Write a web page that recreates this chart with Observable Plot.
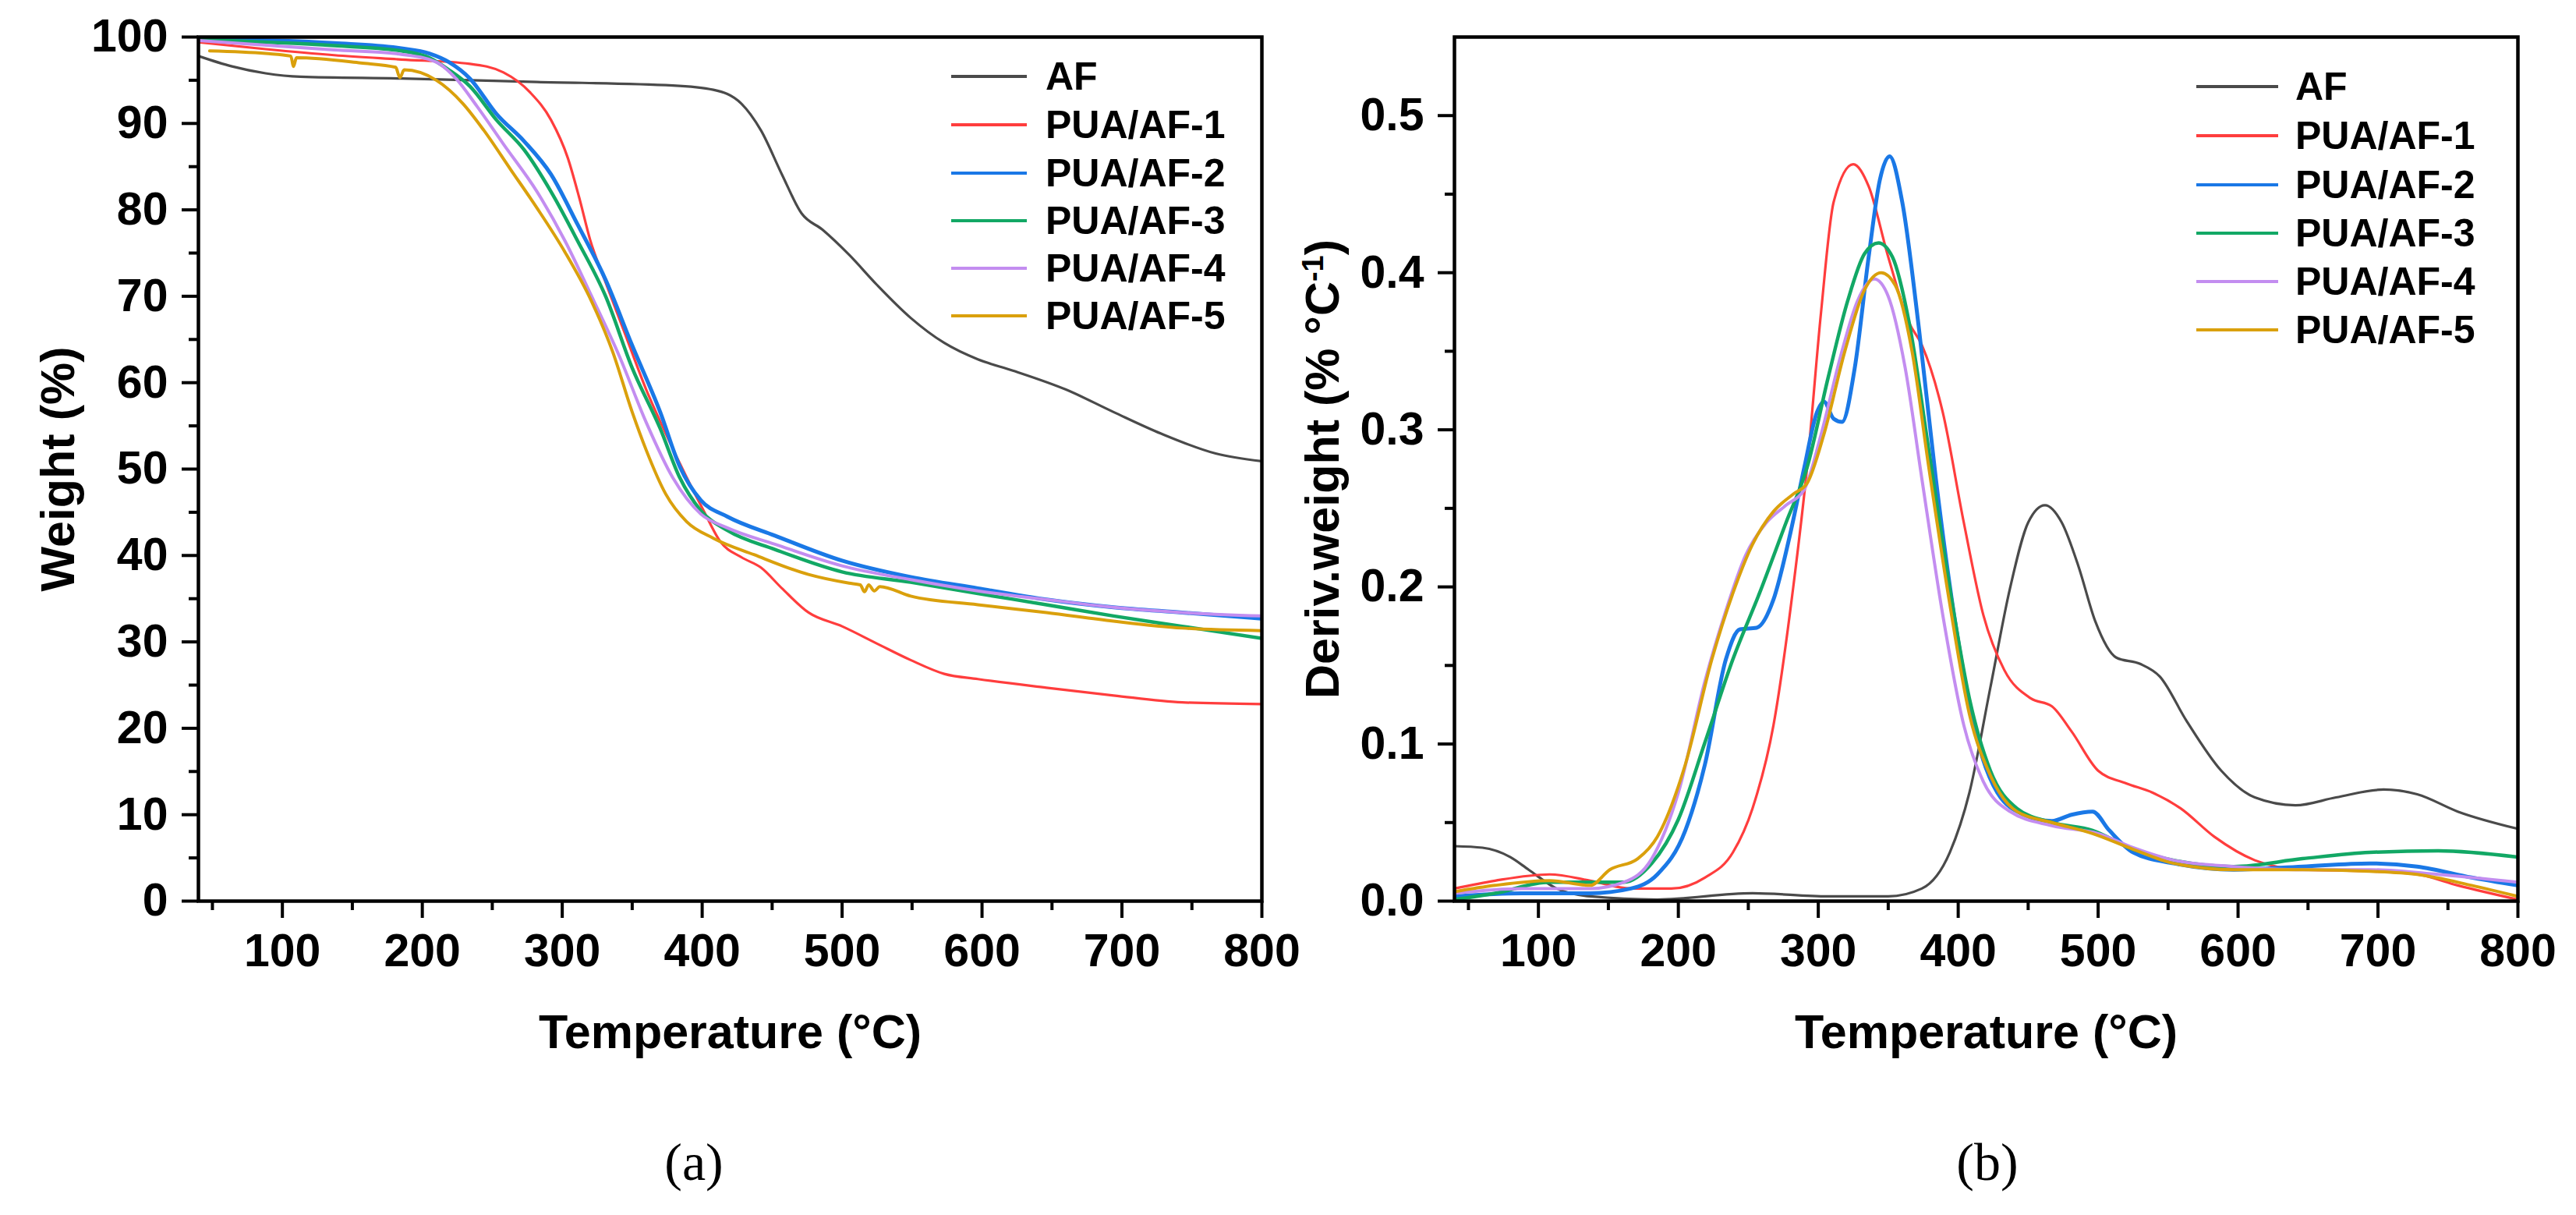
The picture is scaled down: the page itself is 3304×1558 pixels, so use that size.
<!DOCTYPE html>
<html>
<head>
<meta charset="utf-8">
<script src="https://cdn.jsdelivr.net/npm/d3@7"></script>
<script src="https://cdn.jsdelivr.net/npm/@observablehq/plot@0.6"></script>
<style>
  body { margin: 0; background: #fff; }
  #fig { position: relative; width: 3304px; height: 1558px; background: #fff; overflow: hidden;
         font-family: "Liberation Sans", Arial, sans-serif; }
  .panel { position: absolute; top: 0; }
  .panel svg { max-width: none; overflow: visible; }
  .legend { position: absolute; left: 0; top: 0; font-weight: bold; font-size: 50px; color: #000; }
  .legend .sw { position: absolute; height: 4.5px; }
  .legend .lb { position: absolute; line-height: 50px; height: 50px; white-space: nowrap; }
  .cap { position: absolute; width: 300px; text-align: center; font-family: "Liberation Serif", "Times New Roman", serif;
         font-size: 68px; line-height: 68px; color: #000; }
</style>
</head>
<body>
<div id="fig"></div>
<script>
// ---------- series names, colours ----------
const seriesNames = ["AF", "PUA/AF-1", "PUA/AF-2", "PUA/AF-3", "PUA/AF-4", "PUA/AF-5"];
const seriesColors = ["#4a4a4a", "#ff3d3d", "#1a78e6", "#12a865", "#c38df0", "#daa00c"];
const seriesWidths = [3.2, 3.2, 5, 4.5, 4, 4];

// ---------- tick values ----------
const xMajorTicks = [100, 200, 300, 400, 500, 600, 700, 800];
const xMinorTicks = [50, 150, 250, 350, 450, 550, 650, 750];
const yTicksA = [0, 10, 20, 30, 40, 50, 60, 70, 80, 90, 100];
const yMinorA = [5, 15, 25, 35, 45, 55, 65, 75, 85, 95];
const yTicksB = [0, 0.1, 0.2, 0.3, 0.4, 0.5];
const yMinorB = [0.05, 0.15, 0.25, 0.35, 0.45];

// ---------- labels ----------
const xTitle = "Temperature (°C)";
const yTitleA = "Weight (%)";
const yTitleB = "Deriv.weight (% °C-1)";
const captions = ["(a)", "(b)"];

// ---------- (a) TGA: [temperature °C, weight %] ----------
const tgaAF = [[40,97.8],[64,96.6],[88,95.8],[113,95.4],[185,95.2],[282,94.8],[379,94.4],[408,93.9],[428,92.3],[442,89.2],[457,84.1],[471,79.6],[486,77.7],[505,74.8],[525,71.3],[549,67.5],[573,64.6],[597,62.7],[622,61.4],[660,59.2],[694,56.6],[728,54.1],[767,51.8],[800,50.9]];
const tga1 = [[40,99.4],[88,98.6],[137,97.9],[185,97.4],[234,96.9],[258,95.9],[277,93.6],[292,90.4],[304,86.0],[312,81.5],[320,76.5],[331,71.6],[345,65.6],[360,59.2],[374,54.1],[389,49.0],[401,45.2],[413,41.6],[428,39.8],[442,38.6],[457,36.2],[476,33.4],[500,31.8],[525,29.8],[549,27.9],[573,26.3],[597,25.7],[646,24.7],[694,23.8],[743,23.0],[800,22.8]];
const tga2 = [[40,99.8],[137,99.3],[185,98.7],[205,98.1],[219,97.1],[234,95.2],[253,91.1],[273,87.9],[292,84.1],[311,78.3],[331,71.9],[350,64.3],[370,56.6],[384,50.3],[399,46.4],[418,44.5],[452,42.3],[500,39.4],[549,37.5],[597,36.2],[646,34.9],[694,34.0],[743,33.4],[800,32.7]];
const tga3 = [[40,99.7],[137,99.0],[185,98.4],[205,97.6],[219,96.2],[234,94.3],[253,90.4],[273,86.9],[292,82.1],[311,76.4],[331,70.0],[350,61.7],[370,54.7],[384,49.0],[399,45.2],[418,42.9],[452,40.7],[500,38.1],[549,36.9],[597,35.6],[646,34.3],[694,33.0],[743,31.8],[800,30.4]];
const tga4 = [[40,99.6],[137,98.5],[185,98.0],[210,97.1],[224,95.2],[239,92.0],[258,87.6],[282,82.1],[302,76.4],[321,70.0],[341,63.0],[360,55.4],[379,49.0],[399,44.8],[418,43.2],[452,41.3],[500,38.8],[549,37.2],[597,35.9],[646,34.9],[694,34.0],[743,33.4],[800,33.0]];
const tga5 = [[48,98.4],[88,98.1],[106,97.8],[108,96.6],[110,97.6],[156,97.0],[181,96.5],[184,95.3],[187,96.2],[210,95.0],[229,92.3],[244,89.2],[263,84.7],[282,80.2],[302,75.1],[321,69.4],[336,63.6],[350,56.6],[360,52.2],[374,47.1],[389,43.9],[408,42.0],[437,40.1],[476,37.8],[505,36.8],[513,36.6],[516,35.8],[519,36.6],[523,35.9],[527,36.4],[549,35.3],[597,34.3],[646,33.4],[694,32.4],[743,31.6],[800,31.3]];

// ---------- (b) DTG: [temperature °C, deriv. weight %/°C] ----------
const dtgAF = [[40,0.035],[60,0.034],[80,0.028],[93,0.020],[113,0.008],[137,0.003],[185,0.001],[253,0.005],[307,0.003],[350,0.003],[374,0.008],[394,0.031],[408,0.069],[423,0.136],[437,0.199],[450,0.241],[462,0.252],[474,0.241],[486,0.213],[498,0.178],[513,0.155],[530,0.151],[544,0.143],[563,0.115],[588,0.083],[612,0.066],[641,0.061],[670,0.066],[704,0.071],[728,0.068],[757,0.057],[800,0.046]];
const dtg1 = [[40,0.008],[69,0.013],[108,0.017],[137,0.013],[166,0.008],[195,0.008],[219,0.015],[239,0.031],[253,0.059],[268,0.112],[282,0.199],[292,0.276],[302,0.375],[311,0.445],[325,0.469],[336,0.455],[350,0.410],[365,0.368],[374,0.354],[389,0.311],[404,0.241],[418,0.182],[433,0.147],[452,0.129],[467,0.124],[481,0.108],[500,0.083],[520,0.075],[539,0.069],[559,0.059],[583,0.041],[612,0.026],[646,0.020],[694,0.019],[728,0.017],[757,0.010],[800,0.001]];
const dtg2 = [[40,0.003],[88,0.005],[137,0.005],[166,0.008],[185,0.017],[205,0.045],[219,0.087],[234,0.154],[244,0.173],[256,0.174],[268,0.192],[280,0.234],[290,0.276],[299,0.311],[304,0.318],[311,0.307],[317,0.305],[326,0.339],[336,0.410],[344,0.459],[351,0.474],[360,0.445],[372,0.364],[384,0.269],[399,0.171],[413,0.105],[428,0.069],[447,0.055],[467,0.051],[481,0.055],[496,0.057],[508,0.045],[525,0.031],[554,0.024],[597,0.020],[646,0.022],[694,0.024],[728,0.022],[767,0.015],[800,0.010]];
const dtg3 = [[40,0.001],[69,0.005],[108,0.012],[137,0.012],[161,0.012],[181,0.024],[200,0.052],[219,0.101],[239,0.154],[258,0.196],[277,0.241],[292,0.276],[307,0.333],[321,0.382],[333,0.412],[343,0.419],[353,0.410],[365,0.368],[379,0.287],[394,0.199],[408,0.129],[423,0.083],[442,0.059],[467,0.050],[496,0.045],[525,0.033],[554,0.026],[597,0.022],[646,0.027],[694,0.031],[743,0.032],[800,0.028]];
const dtg4 = [[40,0.005],[88,0.008],[137,0.008],[161,0.012],[181,0.027],[200,0.069],[219,0.140],[234,0.185],[248,0.220],[263,0.241],[277,0.252],[290,0.262],[302,0.297],[316,0.347],[328,0.382],[340,0.396],[350,0.385],[362,0.340],[374,0.269],[389,0.182],[404,0.112],[418,0.076],[437,0.057],[467,0.048],[500,0.043],[525,0.034],[554,0.026],[597,0.022],[646,0.020],[694,0.020],[743,0.017],[800,0.012]];
const dtg5 = [[40,0.006],[69,0.010],[108,0.013],[137,0.010],[151,0.020],[171,0.027],[185,0.041],[205,0.087],[224,0.154],[239,0.196],[253,0.227],[268,0.248],[282,0.259],[292,0.266],[304,0.297],[319,0.350],[333,0.389],[345,0.400],[355,0.392],[367,0.350],[379,0.276],[394,0.189],[408,0.119],[423,0.080],[442,0.057],[467,0.050],[496,0.043],[525,0.033],[554,0.024],[597,0.020],[646,0.020],[694,0.019],[728,0.017],[767,0.010],[800,0.003]];

const tgaSeries = [tgaAF, tga1, tga2, tga3, tga4, tga5];
const dtgSeries = [dtgAF, dtg1, dtg2, dtg3, dtg4, dtg5];

const FONT = "'Liberation Sans', Arial, Helvetica, sans-serif";

function makePanel(cfg) {
  const lines = cfg.series.map((pts, i) =>
    Plot.line(pts, {x: d => d[0], y: d => d[1], stroke: seriesColors[i], strokeWidth: seriesWidths[i],
                    curve: "monotone-x", clip: true, strokeLinejoin: "round"}));
  return Plot.plot({
    width: cfg.width, height: 1400,
    marginLeft: cfg.marginLeft, marginRight: cfg.marginRight, marginTop: 47, marginBottom: 245,
    x: {domain: [40, 800], label: null},
    y: {domain: cfg.yDomain, label: null},
    style: {fontFamily: FONT, fontWeight: "bold", color: "#000", background: "transparent", overflow: "visible", maxWidth: "none"},
    marks: [
      ...lines,
      Plot.frame({stroke: "#000", strokeWidth: 4.5}),
      Plot.axisX({ticks: xMajorTicks, tickSize: 22, tickPadding: 20, fontSize: 59, strokeWidth: 4, label: null, tickFormat: d => String(d)}),
      Plot.axisX({ticks: xMinorTicks, tickSize: 12, strokeWidth: 4, label: null, tickFormat: () => ""}),
      Plot.axisY({ticks: cfg.yTicks, tickSize: 21, tickPadding: 18, fontSize: 59, strokeWidth: 4, label: null, tickFormat: cfg.yFormat}),
      Plot.axisY({ticks: cfg.yMinor, tickSize: 12, strokeWidth: 4, label: null, tickFormat: () => ""}),
      Plot.text([xTitle], {frameAnchor: "bottom", dy: 169, lineAnchor: "middle", textAnchor: "middle", fontSize: 61, fontWeight: "bold"}),
      Plot.text([cfg.yTitle], {frameAnchor: "left", rotate: -90, dx: cfg.yTitleDx, lineAnchor: "top", textAnchor: "middle", fontSize: 61, fontWeight: "bold"})
    ]
  });
}

const fig = document.getElementById("fig");

function addPanel(left, cfg) {
  const div = document.createElement("div");
  div.className = "panel";
  div.style.left = left + "px";
  div.style.width = cfg.width + "px";
  const svg = makePanel(cfg);
  div.appendChild(svg);
  fig.appendChild(div);
  return svg;
}

addPanel(0, {series: tgaSeries, width: 1700, marginLeft: 254, marginRight: 82, yDomain: [0, 100],
  yTicks: yTicksA, yMinor: yMinorA, yFormat: d => String(d), yTitle: yTitleA, yTitleDx: -203});

const svgB = addPanel(1620, {series: dtgSeries, width: 1684, marginLeft: 245, marginRight: 75, yDomain: [0, 0.55],
  yTicks: yTicksB, yMinor: yMinorB, yFormat: d3.format(".1f"), yTitle: yTitleB, yTitleDx: -192});

// superscript for the unit in panel (b)
const tB = [...svgB.querySelectorAll("text")].find(e => e.textContent === yTitleB);
if (tB) {
  const ns = "http://www.w3.org/2000/svg";
  tB.textContent = "";
  const a = document.createElementNS(ns, "tspan"); a.textContent = "Deriv.weight (% °C";
  const s = document.createElementNS(ns, "tspan"); s.textContent = "-1"; s.setAttribute("dy", "-20"); s.setAttribute("font-size", "38");
  const c = document.createElementNS(ns, "tspan"); c.textContent = ")"; c.setAttribute("dy", "20");
  tB.appendChild(a); tB.appendChild(s); tB.appendChild(c);
}

// legends
function addLegend(lineX, lineLen, textX, rowYs) {
  const lg = document.createElement("div");
  lg.className = "legend";
  seriesNames.forEach((name, i) => {
    const sw = document.createElement("div");
    sw.className = "sw";
    sw.style.left = lineX + "px";
    sw.style.width = lineLen + "px";
    sw.style.top = (rowYs[i] - 2.25) + "px";
    sw.style.background = seriesColors[i];
    lg.appendChild(sw);
    const lb = document.createElement("div");
    lb.className = "lb";
    lb.style.left = textX + "px";
    lb.style.top = (rowYs[i] - 25) + "px";
    lb.textContent = name;
    lg.appendChild(lb);
  });
  fig.appendChild(lg);
}
addLegend(1220, 97, 1341, [98, 160, 222, 283, 344, 405]);
addLegend(2817, 105, 2944, [111, 174, 237, 299, 361, 423]);

// captions
[[890, captions[0]], [2549, captions[1]]].forEach(([cx, txt]) => {
  const d = document.createElement("div");
  d.className = "cap";
  d.style.left = (cx - 150) + "px";
  d.style.top = "1456px";
  d.textContent = txt;
  fig.appendChild(d);
});
</script>
</body>
</html>
